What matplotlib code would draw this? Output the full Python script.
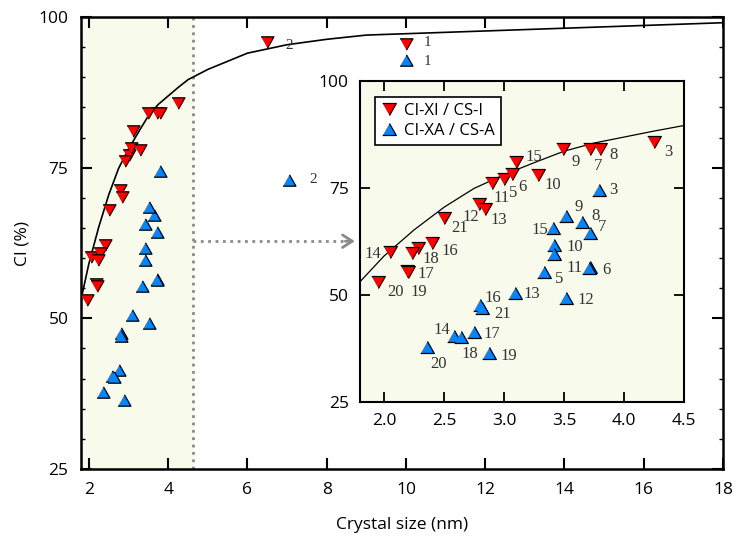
import matplotlib.pyplot as plt
import numpy as np

plt.rcParams['font.family'] = ['Open Sans', 'DejaVu Sans']

# crystallinity index vs crystal size
# CI-XI / CS-I  (red, down triangles)
red_id = ['1', '2', '3', '5', '6', '7', '8', '9', '10', '11', '12', '13', '14', '15', '16', '17', '18', '19', '', '20', '21']
red_size = [10.0, 6.5, 4.25, 3.00, 3.07, 3.72, 3.80, 3.49, 3.28, 2.90, 2.79, 2.84, 2.05, 3.10, 2.40, 2.19, 2.28, 2.20, 2.23, 1.95, 2.50]
red_ci = [95.6, 95.9, 85.8, 77.1, 78.2, 84.0, 84.0, 84.0, 78.0, 76.1, 71.3, 70.1, 60.1, 81.1, 62.1, 55.7, 60.9, 55.4, 59.7, 53.1, 67.9]

# CI-XA / CS-A  (blue, up triangles)
blue_id = ['1', '2', '3', '5', '6', '7', '8', '9', '10', '', '11', '12', '13', '14', '15', '16', '17', '18', '19', '20', '21']
blue_size = [10.0, 7.05, 3.79, 3.33, 3.72, 3.72, 3.65, 3.52, 3.42, 3.42, 3.71, 3.52, 3.09, 2.58, 3.41, 2.80, 2.75, 2.64, 2.875, 2.36, 2.82]
blue_ci = [92.9, 73.0, 74.5, 55.4, 56.6, 64.4, 67.1, 68.5, 61.7, 59.6, 56.4, 49.2, 50.5, 40.4, 65.6, 47.6, 41.4, 40.3, 36.4, 37.8, 47.0]

# fitted trend line
curve_x = [1.8, 2.0, 2.25, 2.5, 2.75, 3.0, 3.25, 3.5, 3.75, 4.0, 4.25, 4.5, 5.0, 6.0, 7.0, 8.0, 9.0, 18.0]
curve_y = [53.1, 59.1, 65.2, 70.5, 74.9, 78.1, 80.9, 83.6, 85.5, 86.9, 88.3, 89.6, 91.3, 94.0, 95.4, 96.3, 97.0, 99.05]

# label offsets in pixels (dx, dy)
red_off = {'1': (22, 1), '2': (22, -4), '3': (14, -10), '5': (9, -14), '6': (10, -13), '7': (8, -17),
           '8': (14, -6), '9': (13, -13), '10': (15, -10), '11': (10, -15), '12': (-8, -13),
           '13': (14, -11), '14': (-17, -2), '15': (18, 5), '16': (18, -8), '17': (19, -3),
           '18': (13, -11), '19': (11, -20), '20': (17, -10), '21': (16, -10)}
blue_off = {'1': (22, -2), '2': (24, 0), '3': (15, 0), '5': (16, -7), '6': (16, -3), '7': (12, 6),
            '8': (14, 6), '9': (12, 9), '10': (20, -2), '11': (-15, 0), '12': (19, -2),
            '13': (17, -1), '14': (-12, 6), '15': (-13, -2), '16': (13, 7), '17': (18, -2),
            '18': (9, -17), '19': (20, -3), '20': (11, -17), '21': (20, -6)}

tri_down = [(-1, 0.88), (1, 0.88), (0, -0.88)]
tri_up = [(-1, -0.88), (1, -0.88), (0, 0.88)]
red = '#ff0000'
blue = '#0a84f5'
shade = '#f8fbec'
num_font = dict(family='Liberation Serif', fontsize=12, color='#333333')
num_font_main = dict(family='Liberation Serif', fontsize=11, color='#333333')

fig = plt.figure(figsize=(7.34, 5.42), dpi=100)
ax = fig.add_axes([81 / 734, 73 / 542, 642 / 734, 452 / 542])

ax.axvspan(1.8, 4.63, color=shade, zorder=0)
ax.axvline(4.63, color='#8a8a8a', ls=':', lw=2, zorder=1)
ax.plot(curve_x, curve_y, color='black', lw=1.2, zorder=2)
ax.plot(red_size, red_ci, ls='none', marker=tri_down, ms=9.3, mfc=red, mec='black', mew=0.9, zorder=3)
ax.plot(blue_size, blue_ci, ls='none', marker=tri_up, ms=9.3, mfc=blue, mec='black', mew=0.9, zorder=3)
for i in range(2):
    ax.annotate(red_id[i], (red_size[i], red_ci[i]), xytext=red_off[red_id[i]],
                textcoords='offset pixels', ha='center', va='center', **num_font_main)
    ax.annotate(blue_id[i], (blue_size[i], blue_ci[i]), xytext=blue_off[blue_id[i]],
                textcoords='offset pixels', ha='center', va='center', **num_font_main)

# dotted pointer towards the zoomed panel
ax.plot([4.63, 8.6], [62.8, 62.8], color='#8a8a8a', ls=':', lw=2, zorder=1)
ax.annotate('', xy=(8.78, 62.8), xytext=(8.4, 62.8),
            arrowprops=dict(arrowstyle='->,head_length=0.7,head_width=0.45', color='#8a8a8a', lw=2))

ax.set_xlim(1.8, 18)
ax.set_ylim(25, 100)
ax.set_xticks(np.arange(2, 19, 2))
ax.set_yticks([25, 50, 75, 100])
ax.set_yticks(np.arange(25, 101, 5), minor=True)
ax.tick_params(direction='in', top=True, right=True, length=8, width=1.5, labelsize=12.5, pad=9)
ax.tick_params(axis='y', which='minor', direction='in', left=True, right=True, length=3, width=1)
for s in ax.spines.values():
    s.set_linewidth(1.8)
ax.set_xlabel('Crystal size (nm)', fontsize=12.5, labelpad=14)
ax.set_ylabel('CI (%)', fontsize=12.5, labelpad=6)

# zoomed panel
axin = fig.add_axes([360 / 734, 140 / 542, 324 / 734, 321 / 542])
axin.set_facecolor(shade)
axin.plot(curve_x, curve_y, color='black', lw=0.9, zorder=2)
axin.plot(red_size, red_ci, ls='none', marker=tri_down, ms=9.8, mfc=red, mec='black', mew=0.9,
          zorder=3, label='CI-XI / CS-I')
axin.plot(blue_size, blue_ci, ls='none', marker=tri_up, ms=9.8, mfc=blue, mec='black', mew=0.9,
          zorder=3, label='CI-XA / CS-A')
for i in range(2, len(red_id)):
    if red_id[i]:
        axin.annotate(red_id[i], (red_size[i], red_ci[i]), xytext=red_off[red_id[i]],
                      textcoords='offset pixels', ha='center', va='center', **num_font)
for i in range(2, len(blue_id)):
    if blue_id[i]:
        axin.annotate(blue_id[i], (blue_size[i], blue_ci[i]), xytext=blue_off[blue_id[i]],
                      textcoords='offset pixels', ha='center', va='center', **num_font)

axin.set_xlim(1.8, 4.5)
axin.set_ylim(25, 100)
axin.set_xticks([2.0, 2.5, 3.0, 3.5, 4.0, 4.5])
axin.set_xticklabels(['2.0', '2.5', '3.0', '3.5', '4.0', '4.5'])
axin.set_yticks([25, 50, 75, 100])
axin.tick_params(direction='in', top=True, right=True, length=7, width=1.3, labelsize=12.5, pad=8)
for s in axin.spines.values():
    s.set_linewidth(1.5)

leg = axin.legend(loc='upper left', bbox_to_anchor=(0.046, 0.95), borderaxespad=0, fontsize=12,
                  frameon=True, fancybox=False, edgecolor='black', framealpha=1,
                  handlelength=1.0, handletextpad=0.4, labelspacing=0.25, borderpad=0.35)
leg.get_frame().set_linewidth(1.2)

fig.savefig('out.png', dpi=100)
